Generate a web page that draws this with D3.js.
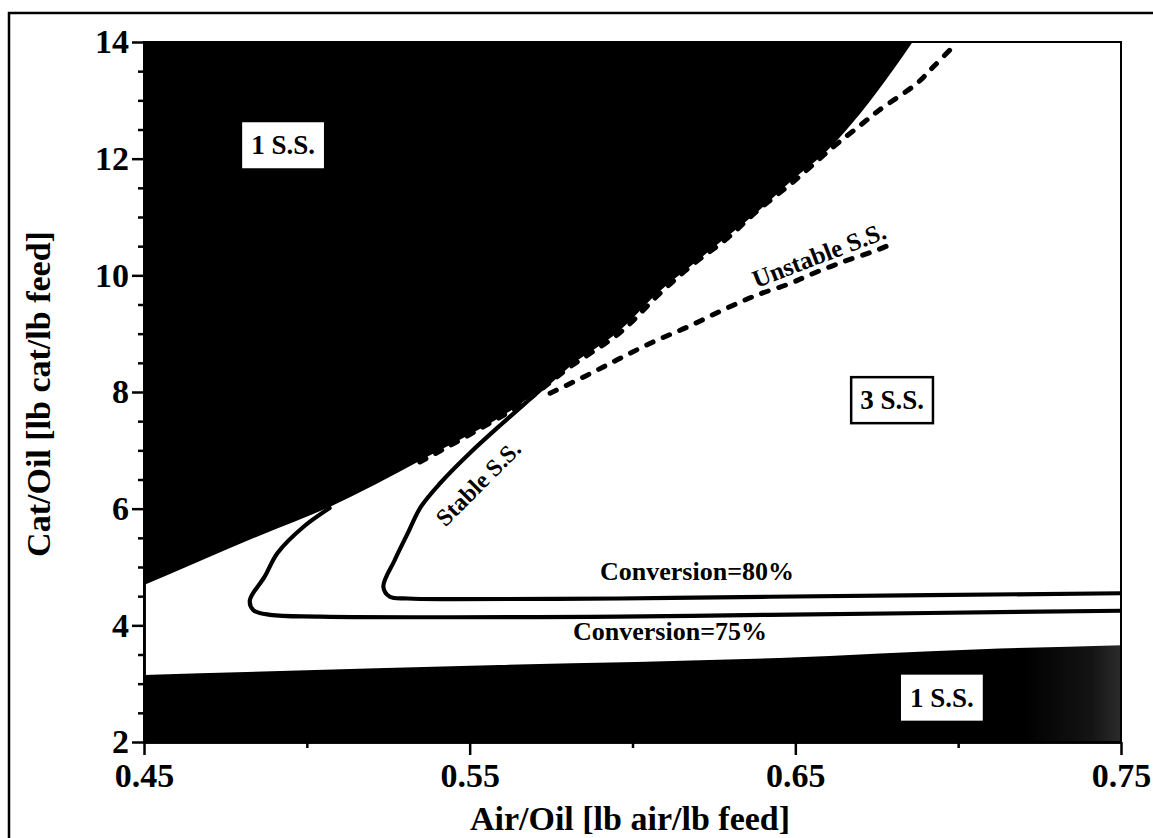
<!DOCTYPE html>
<html>
<head>
<meta charset="utf-8">
<script src="https://cdn.jsdelivr.net/npm/d3@7/dist/d3.min.js"></script>
<style>
  html, body { margin: 0; padding: 0; background: #fff; }
  svg { display: block; }
  text { font-family: "Liberation Serif", "Times New Roman", serif; font-weight: bold; fill: #000; }
</style>
</head>
<body>
<svg id="chart" width="1153" height="838"></svg>
<script>
// Axis ticks
const xTicks = [0.45, 0.55, 0.65, 0.75];
const xMinorTicks = [0.50, 0.60, 0.70];
const yTicks = [2, 4, 6, 8, 10, 12, 14];
const yMinorTicks = [2.5, 3, 3.5, 4.5, 5, 5.5, 6.5, 7, 7.5, 8.5, 9, 9.5, 10.5, 11, 11.5, 12.5, 13, 13.5];

// Boundary of the single steady-state region at high cat/oil [air/oil, cat/oil]
const upperRegionEdge = [
  [0.450, 4.69], [0.467, 5.10], [0.486, 5.55], [0.507, 6.03], [0.535, 6.83],
  [0.566, 7.81], [0.581, 8.46], [0.596, 9.05], [0.608, 9.71], [0.619, 10.21],
  [0.629, 10.66], [0.639, 11.12], [0.649, 11.63], [0.660, 12.15], [0.670, 12.78],
  [0.680, 13.52], [0.686, 14.00]
];

// Boundary of the single steady-state region at low cat/oil
const lowerRegionEdge = [
  [0.450, 3.15], [0.559, 3.32], [0.645, 3.44], [0.707, 3.59], [0.750, 3.66]
];

// Conversion contours on the stable branch
const conversion75 = [
  [0.507, 6.01], [0.499, 5.69], [0.491, 5.24], [0.487, 4.83], [0.4825, 4.43],
  [0.4836, 4.26], [0.4887, 4.18], [0.504, 4.15], [0.596, 4.15], [0.642, 4.18],
  [0.750, 4.25]
];
const conversion80 = [
  [0.581, 8.50], [0.571, 8.00], [0.560, 7.46], [0.550, 6.95], [0.541, 6.44],
  [0.535, 6.03], [0.531, 5.58], [0.527, 5.12], [0.5235, 4.66], [0.5255, 4.49],
  [0.531, 4.46], [0.545, 4.45], [0.596, 4.46], [0.642, 4.49], [0.750, 4.55]
];

// Unstable steady-state branches
const unstableUpper = [
  [0.5347, 6.80], [0.5655, 7.78], [0.5808, 8.43], [0.5962, 9.02], [0.6084, 9.69],
  [0.6186, 10.19], [0.6290, 10.63], [0.6382, 11.10], [0.6493, 11.60], [0.6616, 12.20],
  [0.6699, 12.57], [0.6757, 12.83], [0.6873, 13.29], [0.6923, 13.57], [0.699, 13.95]
];
const unstableLower = [
  [0.5747, 7.98], [0.5858, 8.28], [0.5956, 8.56], [0.6064, 8.86], [0.6171, 9.12],
  [0.6279, 9.41], [0.6381, 9.66], [0.6484, 9.86], [0.6545, 10.01], [0.6646, 10.23],
  [0.6750, 10.43], [0.6801, 10.55]
];

// Region annotations [air/oil, cat/oil]
const regionLabels = [
  { text: "1 S.S.", at: [0.4927, 12.23], boxed: false },
  { text: "3 S.S.", at: [0.6797, 7.86], boxed: true },
  { text: "1 S.S.", at: [0.6950, 2.76], boxed: false }
];

const svg = d3.select("#chart");
const x = d3.scaleLinear().domain([0.45, 0.75]).range([144, 1121]);
const y = d3.scaleLinear().domain([2, 14]).range([742, 42]);

// Outer frame
svg.append("rect")
  .attr("x", 9).attr("y", 13).attr("width", 1170).attr("height", 860)
  .attr("fill", "none").attr("stroke", "#000").attr("stroke-width", 2.5);

const defs = svg.append("defs");
defs.append("clipPath").attr("id", "plot-clip")
  .append("rect").attr("x", x(0.45)).attr("y", y(14))
  .attr("width", x(0.75) - x(0.45)).attr("height", y(2) - y(14));

const grad = defs.append("linearGradient")
  .attr("id", "low-fade").attr("x1", "0").attr("x2", "1").attr("y1", "0").attr("y2", "0");
grad.append("stop").attr("offset", "0.90").attr("stop-color", "#000");
grad.append("stop").attr("offset", "0.97").attr("stop-color", "#141414");
grad.append("stop").attr("offset", "1").attr("stop-color", "#2c2c2c");

const plot = svg.append("g").attr("clip-path", "url(#plot-clip)");

// Single steady-state regions
plot.append("path")
  .datum(upperRegionEdge)
  .attr("fill", "#000")
  .attr("d", d3.area()
    .x(d => x(d[0])).y0(d => y(d[1])).y1(y(14))
    .curve(d3.curveMonotoneX));

plot.append("path")
  .datum(lowerRegionEdge)
  .attr("fill", "url(#low-fade)")
  .attr("d", d3.area()
    .x(d => x(d[0])).y0(d => y(d[1])).y1(y(2))
    .curve(d3.curveMonotoneX));

const curve = d3.line().x(d => x(d[0])).y(d => y(d[1])).curve(d3.curveCatmullRom.alpha(0.5));

[conversion75, conversion80].forEach(c => {
  plot.append("path").datum(c)
    .attr("fill", "none").attr("stroke", "#000").attr("stroke-width", 4.2)
    .attr("stroke-linejoin", "round").attr("stroke-linecap", "round")
    .attr("d", curve);
});

[unstableUpper, unstableLower].forEach(c => {
  plot.append("path").datum(c)
    .attr("fill", "none").attr("stroke", "#000").attr("stroke-width", 5)
    .attr("stroke-dasharray", "7,11").attr("stroke-linecap", "round")
    .attr("d", curve);
});

// Plot box
svg.append("rect")
  .attr("x", x(0.45)).attr("y", y(14))
  .attr("width", x(0.75) - x(0.45)).attr("height", y(2) - y(14))
  .attr("fill", "none").attr("stroke", "#000").attr("stroke-width", 2);

// Axes
const fontTick = "34px";
svg.append("g").attr("transform", `translate(${x(0.45)},0)`)
  .call(d3.axisLeft(y).tickValues(yTicks).tickSize(12).tickSizeOuter(0).tickPadding(3)
    .tickFormat(d3.format("d")));
svg.append("g").attr("transform", `translate(${x(0.45)},0)`)
  .call(d3.axisLeft(y).tickValues(yMinorTicks).tickSize(6).tickSizeOuter(0).tickFormat(""));

svg.append("g").attr("transform", `translate(0,${y(2)})`)
  .call(d3.axisBottom(x).tickValues(xTicks).tickSize(13).tickSizeOuter(0).tickPadding(8)
    .tickFormat(d3.format(".2f")));
svg.append("g").attr("transform", `translate(0,${y(2)})`)
  .call(d3.axisBottom(x).tickValues(xMinorTicks).tickSize(6).tickSizeOuter(0).tickFormat(""));

svg.selectAll(".domain").attr("stroke", "#000").attr("stroke-width", 2.5);
svg.selectAll(".tick line").attr("stroke", "#000").attr("stroke-width", 2.5);
svg.selectAll(".tick text")
  .attr("font-family", "Liberation Serif, Times New Roman, serif")
  .attr("font-weight", "bold").attr("font-size", fontTick).attr("fill", "#000");

// Axis titles
svg.append("text")
  .attr("x", 630).attr("y", 830).attr("text-anchor", "middle")
  .attr("font-size", "34px")
  .text("Air/Oil [lb air/lb feed]");

svg.append("text")
  .attr("transform", "translate(50,394) rotate(-90)")
  .attr("text-anchor", "middle").attr("font-size", "34px")
  .text("Cat/Oil [lb cat/lb feed]");

// Region labels in boxes
regionLabels.forEach(l => {
  const cx = x(l.at[0]), cy = y(l.at[1]);
  const g = svg.append("g");
  const t = g.append("text")
    .attr("x", cx).attr("y", cy).attr("text-anchor", "middle")
    .attr("dominant-baseline", "central").attr("font-size", "27px")
    .text(l.text);
  const bb = t.node().getBBox();
  g.insert("rect", "text")
    .attr("x", bb.x - 9).attr("y", cy - 23).attr("width", bb.width + 18).attr("height", 46)
    .attr("fill", "#fff")
    .attr("stroke", l.boxed ? "#000" : "none").attr("stroke-width", 2.5);
});

// Curve annotations
svg.append("text")
  .attr("x", 697).attr("y", 580).attr("text-anchor", "middle").attr("font-size", "26px")
  .text("Conversion=80%");
svg.append("text")
  .attr("x", 670).attr("y", 640).attr("text-anchor", "middle").attr("font-size", "26px")
  .text("Conversion=75%");
svg.append("text")
  .attr("transform", "translate(484,489) rotate(-45)")
  .attr("text-anchor", "middle").attr("font-size", "24px")
  .text("Stable S.S.");
svg.append("text")
  .attr("transform", "translate(822,263) rotate(-21)")
  .attr("text-anchor", "middle").attr("font-size", "25px")
  .text("Unstable S.S.");
</script>
</body>
</html>
